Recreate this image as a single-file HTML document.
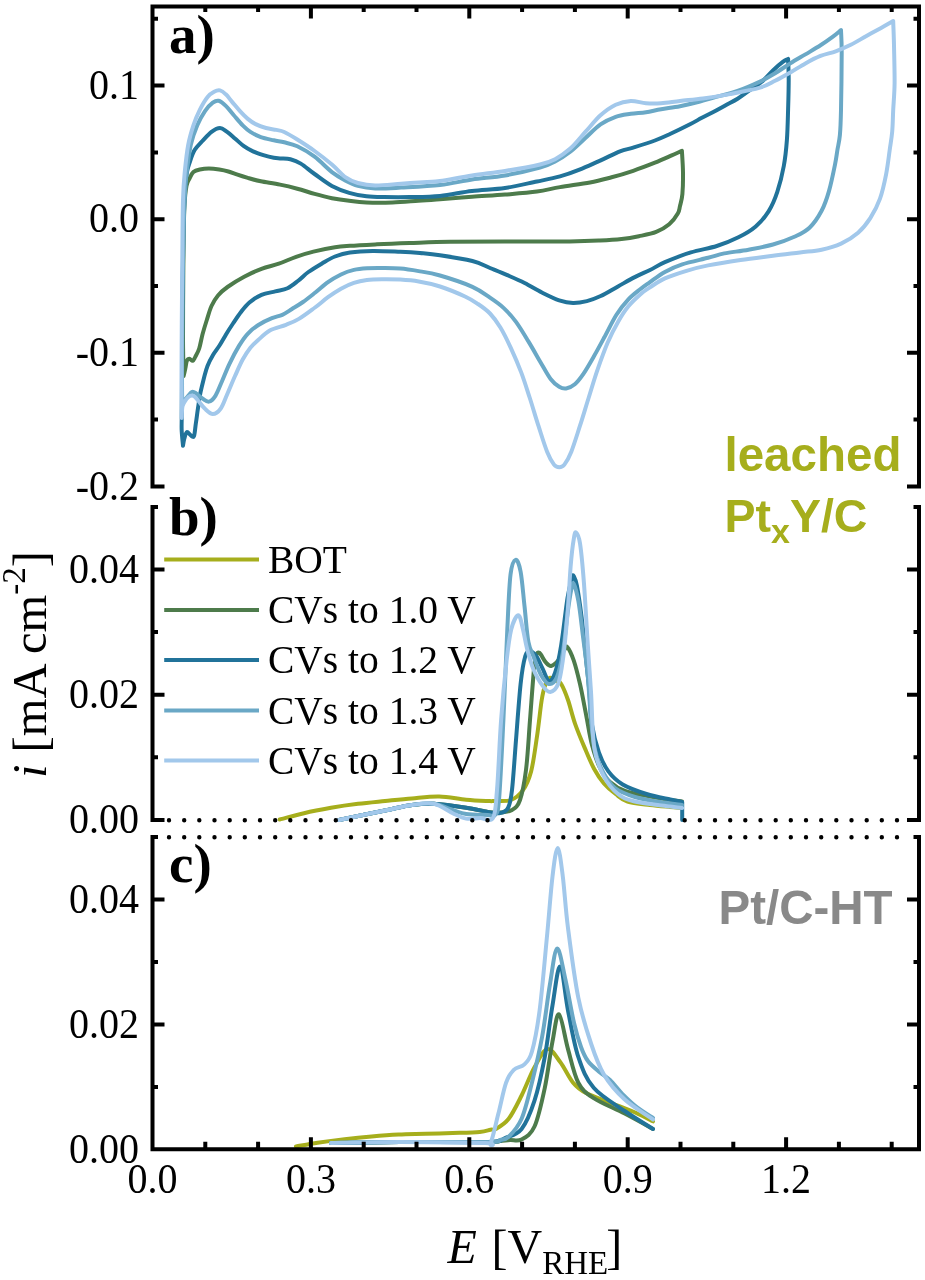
<!DOCTYPE html>
<html><head><meta charset="utf-8"><title>Figure</title><style>
html,body{margin:0;padding:0;background:#fff;width:925px;height:1280px;overflow:hidden}
svg{display:block;filter:blur(0.5px)}
.s{font-family:"Liberation Serif",serif;fill:#000}
.ss{font-family:"Liberation Sans",sans-serif;font-weight:bold}
</style></head><body>
<svg width="925" height="1280" viewBox="0 0 925 1280">
<rect width="925" height="1280" fill="#fff"/>
<g>
<path d="M183.6,376.0 C183.5,370.0 183.1,354.3 183.0,340.0 C182.9,325.7 183.1,306.7 183.2,290.0 C183.3,273.3 183.4,254.2 183.6,240.0 C183.8,225.8 184.0,214.0 184.5,205.0 C185.0,196.0 185.7,190.4 186.5,186.0 C187.3,181.6 188.3,180.9 189.5,178.6 C190.7,176.3 191.7,173.6 193.4,172.1 C195.1,170.6 197.2,170.1 199.8,169.5 C202.4,168.9 205.7,168.5 208.9,168.5 C212.2,168.5 216.1,169.0 219.3,169.5 C222.6,170.0 225.4,170.6 228.4,171.5 C231.4,172.4 234.3,173.6 237.5,174.7 C240.7,175.8 243.9,176.8 247.8,177.9 C251.7,179.0 255.4,180.1 260.8,181.2 C266.2,182.3 273.9,183.3 280.0,184.6 C286.1,185.8 291.5,187.1 297.3,188.7 C303.1,190.2 308.8,192.3 314.6,193.9 C320.4,195.5 326.1,197.0 331.9,198.2 C337.7,199.3 343.4,200.1 349.2,200.8 C355.0,201.5 359.3,202.1 366.5,202.4 C373.7,202.7 383.9,202.7 392.5,202.4 C401.1,202.1 410.5,201.3 418.4,200.8 C426.3,200.3 431.1,199.9 440.0,199.2 C448.9,198.5 461.2,197.6 472.0,196.8 C482.8,196.0 494.2,195.5 505.0,194.6 C515.8,193.7 527.8,192.8 537.0,191.6 C546.2,190.3 551.2,188.6 560.0,187.1 C568.8,185.6 581.4,184.1 590.0,182.5 C598.6,180.9 604.4,179.2 611.6,177.3 C618.8,175.4 626.0,173.2 633.2,170.8 C640.4,168.4 648.6,165.2 654.9,162.7 C661.2,160.2 666.6,157.7 671.1,155.7 C675.6,153.7 680.1,151.6 681.9,150.8 C682.1,154.4 682.9,165.2 683.0,172.4 C683.1,179.6 682.9,188.4 682.4,194.0 C681.9,199.6 680.8,202.8 680.0,206.0 C679.2,209.2 679.6,210.4 677.8,213.5 C676.0,216.6 672.8,221.2 669.2,224.3 C665.6,227.4 661.2,229.9 656.2,231.9 C651.2,233.9 644.7,235.0 638.9,236.2 C633.1,237.4 628.1,238.3 621.6,239.0 C615.1,239.7 608.6,240.1 600.0,240.5 C591.4,240.9 585.6,241.2 569.7,241.4 C553.9,241.6 524.9,241.5 504.9,241.6 C484.9,241.7 465.9,241.6 450.0,241.8 C434.1,242.0 421.7,242.6 409.5,243.0 C397.3,243.4 386.9,243.8 377.0,244.3 C367.1,244.8 357.0,245.3 350.0,245.8 C343.0,246.3 341.1,246.3 335.0,247.3 C328.9,248.3 319.9,250.0 313.4,251.6 C306.9,253.2 301.9,254.8 296.1,256.8 C290.3,258.8 284.6,261.7 278.8,263.7 C273.0,265.7 267.3,266.7 261.5,268.9 C255.7,271.1 249.9,273.7 244.2,276.7 C238.5,279.7 231.9,283.9 227.5,287.0 C223.1,290.1 220.7,292.3 218.0,295.5 C215.3,298.7 213.4,301.9 211.5,306.0 C209.6,310.1 208.3,315.3 206.8,320.0 C205.3,324.7 203.9,329.2 202.6,334.0 C201.3,338.8 200.4,344.7 199.2,348.5 C198.0,352.3 196.4,354.8 195.3,356.9 C194.2,358.9 193.7,360.5 192.7,360.8 C191.7,361.1 190.5,358.8 189.5,358.8 C188.5,358.8 187.6,359.2 186.9,360.8 C186.2,362.4 185.9,366.0 185.3,368.5 C184.8,371.0 183.9,374.8 183.6,376.0" fill="none" stroke="#4d7b4b" stroke-width="4.0" stroke-linejoin="round" stroke-linecap="round"/>
<path d="M183.0,445.7 C182.8,443.2 181.9,435.2 181.7,430.8 C181.5,426.4 181.6,427.6 181.7,419.1 C181.8,410.6 181.9,399.9 182.0,380.0 C182.1,360.1 182.2,325.0 182.5,300.0 C182.8,275.0 183.1,248.3 183.5,230.0 C183.9,211.7 184.4,199.7 185.0,190.0 C185.6,180.3 186.2,176.5 187.0,172.0 C187.8,167.5 188.2,166.7 189.5,163.0 C190.8,159.3 192.4,153.8 194.6,150.1 C196.8,146.4 199.6,144.0 202.4,141.0 C205.2,138.0 208.6,134.1 211.5,131.9 C214.4,129.7 217.4,128.0 220.0,128.0 C222.6,128.0 224.6,130.2 227.1,131.9 C229.6,133.6 232.1,136.0 234.9,138.4 C237.7,140.8 240.9,144.0 243.9,146.2 C246.9,148.4 249.8,149.9 253.0,151.4 C256.2,152.9 259.9,154.1 263.4,155.2 C266.9,156.3 271.0,157.3 273.8,157.8 C276.6,158.3 277.2,158.2 280.0,158.4 C282.8,158.7 286.9,158.4 290.4,159.3 C293.9,160.2 296.8,161.2 300.8,163.6 C304.8,166.0 309.4,170.3 314.6,174.0 C319.8,177.7 326.1,182.8 331.9,185.9 C337.7,189.0 343.4,191.1 349.2,192.8 C355.0,194.5 360.7,195.6 366.5,196.3 C372.3,197.0 376.6,197.0 383.8,197.1 C391.0,197.2 400.4,197.3 409.8,197.1 C419.2,196.9 429.6,196.9 440.0,195.9 C450.4,194.9 461.2,192.3 472.0,191.0 C482.8,189.7 494.2,189.6 505.0,188.0 C515.8,186.4 527.8,183.4 537.0,181.5 C546.2,179.6 552.9,178.4 560.0,176.4 C567.1,174.4 573.0,172.2 579.5,169.6 C586.0,167.0 592.2,164.1 599.0,161.1 C605.8,158.1 614.3,153.7 620.0,151.4 C625.7,149.2 627.4,149.4 633.2,147.6 C639.0,145.8 648.8,142.8 654.9,140.5 C661.0,138.2 664.1,136.7 670.0,134.0 C675.9,131.3 684.7,127.0 690.0,124.3 C695.3,121.6 697.9,119.9 701.9,117.8 C705.9,115.7 709.8,113.9 713.8,111.8 C717.8,109.7 721.7,107.5 725.7,105.3 C729.7,103.1 733.6,101.3 737.6,98.8 C741.6,96.3 745.5,93.2 749.5,90.4 C753.5,87.6 757.4,85.5 761.4,82.1 C765.4,78.7 769.6,73.6 773.2,70.2 C776.8,66.8 780.3,63.8 782.8,61.9 C785.3,60.0 787.2,59.4 788.1,58.9 C788.2,62.4 788.7,71.3 788.7,79.7 C788.7,88.1 788.4,99.5 788.1,109.5 C787.8,119.5 787.6,130.6 786.9,140.0 C786.2,149.4 785.4,157.3 783.8,166.0 C782.2,174.7 779.8,184.3 777.3,191.9 C774.8,199.5 772.2,205.6 768.6,211.4 C765.0,217.2 760.7,222.2 755.7,226.5 C750.7,230.8 744.9,234.1 738.4,237.3 C731.9,240.6 724.7,243.5 716.8,246.0 C708.9,248.5 699.4,249.7 690.8,252.4 C682.1,255.1 671.7,259.3 664.9,262.2 C658.1,265.1 654.9,267.6 650.0,270.0 C645.1,272.4 640.6,274.2 635.3,276.9 C630.0,279.6 623.8,283.2 618.0,286.4 C612.2,289.6 605.9,293.6 600.7,296.0 C595.5,298.4 591.5,300.0 586.9,301.1 C582.3,302.2 577.6,303.0 573.0,302.9 C568.4,302.8 564.4,302.0 559.2,300.3 C554.0,298.6 547.7,295.4 541.9,292.5 C536.1,289.6 530.4,285.9 524.6,283.0 C518.8,280.1 513.1,277.7 507.3,275.2 C501.5,272.7 495.8,270.4 490.0,268.0 C484.2,265.6 480.7,263.1 472.4,261.0 C464.1,258.9 448.7,256.5 440.0,255.2 C431.3,253.9 426.6,253.6 420.0,253.0 C413.4,252.4 408.2,252.1 400.3,251.8 C392.4,251.5 381.1,250.9 372.7,251.0 C364.3,251.1 356.3,251.6 350.0,252.5 C343.7,253.4 339.7,254.7 335.0,256.5 C330.3,258.3 326.4,260.9 322.0,263.5 C317.6,266.1 312.3,269.2 308.4,272.0 C304.5,274.8 302.0,277.8 298.5,280.5 C295.0,283.2 291.4,286.5 287.5,288.3 C283.6,290.1 279.6,290.3 275.3,291.4 C271.0,292.5 265.8,293.0 261.5,294.9 C257.2,296.8 252.8,299.6 249.4,302.5 C246.0,305.4 243.7,308.5 241.0,312.0 C238.3,315.5 235.5,319.8 233.0,323.5 C230.5,327.2 228.2,330.8 226.0,334.5 C223.8,338.2 221.7,342.1 219.5,345.5 C217.3,348.9 215.0,351.6 213.0,355.0 C211.0,358.4 208.9,362.4 207.5,366.0 C206.1,369.6 205.3,372.9 204.4,376.3 C203.5,379.8 202.6,383.4 201.8,386.7 C201.0,389.9 200.5,392.1 199.8,395.8 C199.2,399.5 198.6,404.3 197.9,408.8 C197.2,413.3 196.6,418.5 195.9,423.0 C195.2,427.5 194.8,433.9 194.0,436.0 C193.2,438.1 192.0,436.0 190.8,435.4 C189.6,434.8 188.0,431.6 186.9,432.1 C185.8,432.6 185.0,436.3 184.3,438.6 C183.7,440.9 183.2,444.5 183.0,445.7" fill="none" stroke="#21739a" stroke-width="4.0" stroke-linejoin="round" stroke-linecap="round"/>
<path d="M182.3,404.9 C182.2,400.8 182.0,394.1 182.0,380.0 C182.0,365.9 182.1,340.0 182.3,320.0 C182.5,300.0 182.7,277.5 183.0,260.0 C183.3,242.5 183.6,227.5 184.0,215.0 C184.4,202.5 185.0,192.4 185.5,185.0 C186.0,177.6 186.0,177.5 186.9,170.8 C187.8,164.1 189.1,152.5 190.8,144.9 C192.5,137.3 194.8,131.0 197.2,125.4 C199.6,119.8 202.4,114.9 205.0,111.1 C207.6,107.3 210.5,104.4 212.8,102.7 C215.1,101.0 216.4,100.3 218.6,100.8 C220.8,101.3 223.3,103.5 225.8,105.9 C228.3,108.3 230.8,111.8 233.6,115.0 C236.4,118.2 239.9,122.6 242.7,125.4 C245.5,128.2 247.4,130.0 250.4,131.9 C253.4,133.8 256.9,135.7 260.8,137.1 C264.7,138.5 269.9,139.4 273.8,140.3 C277.7,141.2 280.3,141.3 284.2,142.3 C288.1,143.3 292.2,143.9 297.3,146.3 C302.4,148.7 308.8,152.4 314.6,156.7 C320.4,161.0 326.7,168.1 331.9,172.1 C337.1,176.1 341.4,178.4 345.7,180.7 C350.0,183.0 353.0,184.6 357.9,185.9 C362.8,187.2 368.0,188.2 375.2,188.5 C382.4,188.8 390.3,188.2 401.1,187.6 C411.9,187.0 428.2,186.3 440.0,185.0 C451.8,183.7 461.2,181.1 472.0,179.5 C482.8,177.9 493.7,177.5 505.0,175.5 C516.3,173.5 531.6,169.8 540.0,167.5 C548.4,165.2 550.1,164.1 555.1,161.4 C560.1,158.8 565.2,155.5 570.3,151.6 C575.3,147.7 580.4,142.5 585.4,138.0 C590.4,133.5 595.5,127.9 600.5,124.4 C605.5,120.9 610.7,118.6 615.7,116.8 C620.8,115.0 625.8,114.6 630.8,113.8 C635.8,113.0 641.0,113.0 646.0,112.2 C651.0,111.4 655.4,110.2 661.1,109.2 C666.8,108.2 673.5,107.5 680.0,106.2 C686.5,104.9 694.4,103.0 700.0,101.5 C705.6,100.0 707.5,99.2 713.8,97.5 C720.1,95.8 729.9,93.7 737.6,91.0 C745.3,88.3 753.8,84.5 760.0,81.6 C766.2,78.6 770.1,76.3 775.1,73.3 C780.1,70.3 785.2,66.5 790.3,63.4 C795.3,60.2 800.4,57.4 805.4,54.4 C810.4,51.4 816.0,48.2 820.5,45.3 C825.0,42.4 829.2,39.4 832.6,36.9 C836.0,34.4 839.6,31.2 841.0,30.1 C841.1,33.9 841.7,39.5 841.7,52.8 C841.7,66.1 841.3,96.3 841.0,110.0 C840.7,123.7 840.5,128.3 839.9,135.0 C839.3,141.7 838.2,145.1 837.4,150.0 C836.6,154.9 836.4,157.7 835.0,164.6 C833.6,171.5 831.1,183.7 828.9,191.4 C826.7,199.1 824.8,204.7 821.6,210.8 C818.4,216.9 813.9,223.5 809.5,227.8 C805.1,232.1 801.1,233.7 795.0,236.5 C788.9,239.3 780.7,242.3 773.0,244.5 C765.3,246.7 756.7,248.2 748.6,249.7 C740.5,251.2 731.0,252.1 724.3,253.4 C717.5,254.8 715.1,256.0 708.1,257.8 C701.1,259.6 689.4,262.0 682.2,264.3 C675.0,266.6 670.3,268.9 664.9,271.9 C659.5,274.9 654.1,279.2 650.0,282.1 C645.9,285.0 644.1,286.1 640.5,289.0 C636.9,291.9 632.4,295.1 628.4,299.4 C624.4,303.7 620.3,308.6 616.3,315.0 C612.3,321.4 608.0,330.6 604.2,337.5 C600.5,344.4 597.3,350.4 593.8,356.5 C590.3,362.6 586.6,369.2 583.4,373.8 C580.2,378.4 577.7,381.8 574.8,384.2 C571.9,386.6 568.7,388.1 566.1,388.5 C563.5,388.9 561.8,388.4 559.2,386.8 C556.6,385.2 553.8,383.2 550.6,379.0 C547.4,374.8 544.0,368.1 540.2,361.7 C536.5,355.3 532.1,347.5 528.1,340.9 C524.1,334.3 520.0,327.4 516.0,321.9 C511.9,316.4 508.1,312.1 503.8,308.1 C499.5,304.1 495.2,301.2 490.0,297.7 C484.8,294.1 480.7,290.5 472.4,286.8 C464.1,283.1 448.9,278.1 440.0,275.5 C431.1,272.9 425.3,272.2 418.7,271.1 C412.1,270.0 406.4,269.1 400.3,268.6 C394.2,268.1 387.5,268.1 381.9,268.0 C376.3,267.9 371.6,268.0 366.9,268.3 C362.2,268.6 358.2,268.9 353.9,269.9 C349.6,270.9 345.3,272.4 341.0,274.5 C336.7,276.6 332.3,279.1 328.0,282.2 C323.7,285.2 319.2,289.5 315.0,292.8 C310.8,296.1 306.8,299.3 303.0,302.0 C299.2,304.7 295.4,306.9 292.0,309.0 C288.6,311.1 285.7,313.3 282.3,314.8 C278.9,316.3 275.9,316.5 271.9,318.2 C267.8,319.9 262.0,322.6 258.0,325.2 C254.0,327.8 250.9,330.4 247.7,333.8 C244.5,337.2 242.0,341.0 239.0,345.9 C236.0,350.8 232.5,357.5 229.7,363.4 C226.8,369.3 224.3,376.1 221.9,381.5 C219.5,386.9 217.6,392.4 215.4,395.8 C213.2,399.2 211.1,401.2 208.9,401.6 C206.7,402.0 204.6,399.8 202.4,398.4 C200.2,397.0 197.6,394.3 195.9,393.2 C194.2,392.1 193.4,391.5 192.1,391.9 C190.8,392.3 189.5,394.3 188.2,395.8 C186.9,397.3 185.3,399.5 184.3,401.0 C183.3,402.5 182.6,404.2 182.3,404.9" fill="none" stroke="#6aa8c6" stroke-width="4.0" stroke-linejoin="round" stroke-linecap="round"/>
<path d="M181.7,418.0 C181.7,411.7 181.5,396.3 181.5,380.0 C181.5,363.7 181.7,340.0 181.8,320.0 C181.9,300.0 182.1,280.0 182.3,260.0 C182.5,240.0 182.6,214.9 183.0,200.0 C183.4,185.1 184.0,180.0 184.9,170.8 C185.8,161.6 186.8,152.5 188.2,144.9 C189.6,137.3 191.5,131.2 193.4,125.4 C195.3,119.6 197.4,114.5 199.8,109.8 C202.2,105.0 205.2,99.9 207.6,96.9 C210.0,93.9 212.0,92.8 214.1,91.7 C216.2,90.6 218.1,90.0 220.0,90.4 C221.9,90.8 223.8,92.3 225.8,94.3 C227.9,96.2 229.9,99.3 232.3,102.1 C234.7,104.9 237.4,108.3 240.0,111.1 C242.6,113.9 245.2,116.7 247.8,118.9 C250.4,121.1 252.6,122.6 255.6,124.1 C258.6,125.6 262.5,127.0 266.0,128.0 C269.5,129.0 273.4,129.2 276.4,129.9 C279.4,130.6 280.7,130.4 284.2,132.0 C287.7,133.6 292.2,136.3 297.3,139.5 C302.4,142.7 308.8,146.8 314.6,151.0 C320.4,155.2 326.7,160.1 331.9,164.5 C337.1,168.9 341.4,174.3 345.7,177.4 C350.0,180.5 353.0,181.7 357.9,183.0 C362.8,184.3 368.0,185.3 375.2,185.4 C382.4,185.5 392.5,184.3 401.1,183.7 C409.8,183.1 420.6,182.3 427.1,181.9 C433.6,181.5 432.5,182.1 440.0,181.0 C447.5,179.9 461.2,177.2 472.0,175.5 C482.8,173.8 493.7,172.8 505.0,171.0 C516.3,169.2 531.6,166.5 540.0,164.5 C548.4,162.5 550.1,161.8 555.1,159.2 C560.1,156.5 565.2,153.1 570.3,148.6 C575.3,144.1 580.4,137.5 585.4,131.9 C590.4,126.4 595.5,119.8 600.5,115.3 C605.5,110.8 610.7,107.1 615.7,104.7 C620.8,102.3 625.8,101.2 630.8,100.9 C635.8,100.7 641.0,102.8 646.0,103.2 C651.0,103.6 655.4,103.6 661.1,103.2 C666.8,102.8 673.0,101.7 680.0,100.9 C687.0,100.1 694.7,99.5 703.0,98.4 C711.3,97.3 720.5,95.9 730.0,94.1 C739.5,92.3 752.5,89.9 760.0,87.7 C767.5,85.5 770.1,83.3 775.1,80.8 C780.1,78.3 785.2,75.4 790.3,72.5 C795.3,69.6 800.4,66.2 805.4,63.4 C810.4,60.6 815.5,57.9 820.5,55.9 C825.5,53.9 830.7,53.1 835.7,51.3 C840.8,49.4 845.8,47.3 850.8,44.8 C855.8,42.3 861.0,39.0 866.0,36.2 C871.0,33.4 876.6,30.4 881.1,27.9 C885.6,25.4 891.2,22.2 893.2,21.1 C893.3,25.1 893.8,35.0 894.0,45.3 C894.2,55.6 894.7,72.2 894.6,83.0 C894.5,93.8 893.6,101.9 893.2,110.0 C892.8,118.1 892.8,124.9 892.2,131.6 C891.6,138.3 890.7,142.9 889.7,150.0 C888.7,157.1 887.7,166.2 886.1,174.3 C884.5,182.4 882.6,191.3 880.0,198.6 C877.4,205.9 873.9,212.4 870.3,218.1 C866.6,223.8 863.0,228.4 858.1,232.7 C853.2,236.9 847.2,240.8 841.1,243.6 C835.0,246.4 828.5,248.2 821.6,249.7 C814.8,251.2 808.1,251.4 800.0,252.4 C791.9,253.4 782.9,254.4 773.0,255.7 C763.1,257.0 751.3,258.4 740.5,260.0 C729.7,261.6 717.1,263.6 708.1,265.4 C699.1,267.2 693.7,268.6 686.5,270.8 C679.3,273.0 671.0,275.6 664.9,278.4 C658.8,281.1 654.1,284.7 650.0,287.3 C645.9,289.9 644.1,291.0 640.5,294.2 C636.9,297.4 632.1,301.7 628.4,306.3 C624.6,310.9 621.5,315.8 618.0,321.9 C614.5,328.0 611.1,334.6 607.6,342.7 C604.1,350.8 600.5,361.1 597.3,370.3 C594.1,379.5 591.5,388.8 588.6,398.0 C585.7,407.2 582.9,416.8 580.0,425.7 C577.1,434.6 573.9,445.2 571.3,451.7 C568.7,458.2 566.4,462.0 564.4,464.6 C562.4,467.2 560.9,467.2 559.2,467.2 C557.5,467.2 556.0,467.2 554.0,464.6 C552.0,462.0 549.7,458.2 547.1,451.7 C544.5,445.2 541.3,434.6 538.4,425.7 C535.5,416.8 532.7,406.9 529.8,398.0 C526.9,389.1 524.3,380.5 521.1,372.1 C517.9,363.8 514.2,355.3 510.8,347.9 C507.4,340.5 503.9,333.2 500.4,327.5 C496.9,321.8 493.7,317.4 490.0,313.5 C486.3,309.6 482.2,306.8 478.0,304.0 C473.8,301.2 471.3,299.4 465.0,296.5 C458.7,293.6 447.7,289.0 440.0,286.5 C432.3,284.0 425.3,282.6 418.7,281.5 C412.1,280.4 406.4,280.0 400.3,279.6 C394.2,279.2 387.5,279.1 381.9,279.2 C376.3,279.3 371.6,279.4 366.9,280.0 C362.2,280.6 358.2,281.4 353.9,282.9 C349.6,284.3 345.3,286.3 341.0,288.7 C336.7,291.1 332.3,294.1 328.0,297.2 C323.7,300.3 319.9,303.9 315.0,307.5 C310.1,311.1 303.7,316.0 298.9,318.9 C294.1,321.8 290.8,322.9 286.0,324.8 C281.2,326.7 274.8,327.8 270.2,330.3 C265.6,332.8 261.5,337.1 258.2,340.0 C254.9,342.9 253.0,344.6 250.4,347.8 C247.8,351.1 245.3,354.8 242.7,359.5 C240.1,364.2 237.5,370.5 234.9,376.3 C232.3,382.1 229.5,389.1 227.1,394.5 C224.7,399.9 223.0,405.6 220.6,408.8 C218.2,412.1 215.4,414.0 212.8,414.0 C210.2,414.0 207.4,411.0 205.0,408.8 C202.6,406.6 200.4,403.2 198.5,401.0 C196.6,398.8 195.1,396.4 193.4,395.8 C191.7,395.2 189.7,396.0 188.2,397.1 C186.7,398.2 185.3,400.6 184.3,402.3 C183.3,404.0 182.7,404.9 182.3,407.5 C181.9,410.1 181.8,416.2 181.7,418.0" fill="none" stroke="#a2c8eb" stroke-width="4.0" stroke-linejoin="round" stroke-linecap="round"/>
<path d="M279.7,819.5 C283.8,818.5 295.4,815.2 304.0,813.2 C312.6,811.2 322.0,809.4 331.0,807.8 C340.0,806.2 349.0,804.9 358.0,803.8 C367.0,802.7 376.0,801.9 385.0,801.0 C394.0,800.1 403.0,799.1 412.0,798.4 C421.0,797.6 430.2,796.3 439.2,796.5 C448.2,796.7 458.1,799.0 466.2,799.7 C474.3,800.5 483.1,800.8 487.8,801.0 C492.5,801.2 490.5,801.2 494.3,801.0 C498.1,800.8 506.1,801.8 510.9,800.0 C515.6,798.2 519.4,795.2 522.8,790.4 C526.2,785.6 528.7,780.5 531.1,771.4 C533.5,762.3 535.3,747.6 537.1,735.7 C538.9,723.8 540.3,708.6 541.7,700.0 C543.1,691.4 544.2,687.7 545.6,684.0 C547.0,680.3 548.5,678.3 550.3,677.8 C552.1,677.3 554.8,680.0 556.6,681.0 C558.4,682.0 559.4,680.8 561.2,684.0 C563.1,687.2 565.7,693.4 568.0,700.0 C570.3,706.6 572.3,715.9 575.1,723.8 C577.9,731.7 581.4,740.1 584.6,747.6 C587.8,755.1 591.0,763.1 594.2,769.0 C597.4,774.9 600.1,779.0 603.7,783.2 C607.3,787.4 611.6,791.0 615.6,794.0 C619.6,797.0 621.8,799.7 627.5,801.5 C633.2,803.3 642.9,804.1 650.0,805.0 C657.1,805.9 664.7,806.5 670.0,807.0 C675.3,807.5 680.0,807.8 682.0,808.0" fill="none" stroke="#a6ae1c" stroke-width="4.0" stroke-linejoin="round" stroke-linecap="round"/>
<path d="M339.0,820.0 C346.7,818.4 372.8,813.0 385.0,810.5 C397.2,808.0 403.9,806.1 412.0,805.0 C420.1,803.9 424.8,803.3 433.8,803.8 C442.8,804.3 457.2,806.4 466.2,807.8 C475.2,809.1 482.2,811.1 487.8,811.9 C493.4,812.7 496.0,812.8 500.0,812.5 C504.0,812.2 508.7,812.1 512.0,810.0 C515.3,807.9 517.7,806.7 520.0,800.0 C522.3,793.3 524.3,783.3 526.0,770.0 C527.7,756.7 528.7,736.7 530.0,720.0 C531.3,703.3 532.9,680.7 533.9,670.0 C534.9,659.3 535.1,658.9 536.0,656.0 C536.9,653.1 537.8,651.8 539.4,652.8 C541.0,653.8 543.6,660.0 545.6,662.2 C547.6,664.4 549.0,666.3 551.1,666.0 C553.2,665.7 555.9,663.3 558.1,660.6 C560.3,657.9 562.8,651.9 564.4,649.7 C566.0,647.5 565.9,645.5 567.5,647.3 C569.1,649.1 571.7,654.5 573.8,660.6 C575.8,666.7 577.9,674.9 580.0,684.0 C582.1,693.1 584.2,705.1 586.2,715.3 C588.2,725.5 589.7,736.2 592.0,745.0 C594.3,753.8 597.0,761.8 600.0,768.0 C603.0,774.2 605.8,778.2 610.0,782.0 C614.2,785.8 618.3,788.6 625.0,791.0 C631.7,793.4 642.5,795.0 650.0,796.5 C657.5,798.0 664.7,799.2 670.0,800.0 C675.3,800.8 680.0,801.2 682.0,801.5" fill="none" stroke="#4d7b4b" stroke-width="4.0" stroke-linejoin="round" stroke-linecap="round"/>
<path d="M339.0,820.0 C346.7,818.4 372.8,813.0 385.0,810.5 C397.2,808.0 403.9,806.1 412.0,805.0 C420.1,803.9 424.8,803.3 433.8,803.8 C442.8,804.3 457.2,806.4 466.2,807.8 C475.2,809.1 482.2,811.0 487.8,811.9 C493.4,812.8 496.6,813.6 500.0,813.0 C503.4,812.4 506.0,811.8 508.0,808.0 C510.0,804.2 510.7,801.3 512.0,790.0 C513.3,778.7 514.6,757.7 516.0,740.0 C517.4,722.3 519.1,698.0 520.6,684.0 C522.1,670.0 523.7,661.5 525.3,656.0 C526.9,650.5 528.2,651.2 530.0,651.2 C531.8,651.2 534.2,653.1 536.2,656.0 C538.3,658.9 540.4,664.2 542.5,668.4 C544.6,672.6 546.7,680.2 548.8,681.0 C550.8,681.8 552.9,679.0 555.0,673.0 C557.1,667.0 559.2,657.5 561.2,645.0 C563.3,632.5 565.7,609.2 567.5,598.0 C569.3,586.8 571.2,581.4 572.2,577.8 C573.2,574.2 573.0,575.0 573.8,576.2 C574.5,577.5 575.6,578.8 576.9,585.6 C578.2,592.4 580.0,604.4 581.6,616.9 C583.2,629.4 585.0,648.1 586.2,660.6 C587.5,673.1 588.5,681.4 589.4,691.9 C590.3,702.4 590.2,713.7 591.8,723.8 C593.4,733.9 596.1,744.4 598.9,752.3 C601.7,760.2 604.4,766.0 608.4,771.4 C612.4,776.8 616.4,780.7 622.7,784.5 C629.1,788.3 638.6,791.5 646.5,794.0 C654.4,796.5 664.3,798.2 670.3,799.5 C676.2,800.8 680.2,801.6 682.2,802.0 L682.2,820.0" fill="none" stroke="#21739a" stroke-width="4.0" stroke-linejoin="round" stroke-linecap="round"/>
<path d="M339.0,820.0 C346.7,818.4 372.8,813.0 385.0,810.5 C397.2,808.0 403.9,806.1 412.0,805.0 C420.1,803.9 427.0,803.0 433.8,803.8 C440.6,804.6 447.3,808.3 452.7,810.0 C458.1,811.7 460.3,813.2 466.2,814.0 C472.1,814.8 483.0,814.8 487.8,815.0 C492.6,815.2 493.1,817.5 495.0,815.0 C496.9,812.5 497.6,815.8 499.0,800.0 C500.4,784.2 502.0,748.4 503.4,720.0 C504.8,691.6 506.1,653.6 507.3,629.4 C508.5,605.2 509.1,586.3 510.5,574.7 C511.9,563.1 513.9,560.3 515.6,559.8 C517.3,559.3 519.1,563.9 520.6,571.6 C522.1,579.3 523.2,594.3 524.5,606.0 C525.8,617.7 526.8,633.3 528.4,641.9 C530.0,650.5 531.8,652.0 533.9,657.5 C536.0,663.0 538.4,670.3 540.9,674.7 C543.4,679.1 546.1,683.5 548.8,684.0 C551.4,684.5 554.3,683.0 556.6,677.8 C558.9,672.6 561.0,663.5 562.8,652.8 C564.6,642.1 566.1,624.4 567.5,613.8 C568.9,603.1 570.4,593.7 571.4,588.8 C572.4,583.8 572.6,581.9 573.8,584.0 C574.9,586.1 576.8,592.4 578.4,601.2 C580.0,610.1 581.5,624.7 583.1,637.2 C584.7,649.7 586.5,662.5 587.8,676.2 C589.1,690.0 589.8,707.7 591.0,720.0 C592.2,732.3 593.0,741.3 595.0,750.0 C597.0,758.7 599.7,765.7 603.0,772.0 C606.3,778.3 609.7,783.8 615.0,788.0 C620.3,792.2 627.5,794.7 635.0,797.0 C642.5,799.3 652.2,800.7 660.0,802.0 C667.8,803.3 678.3,804.5 682.0,805.0" fill="none" stroke="#6aa8c6" stroke-width="4.0" stroke-linejoin="round" stroke-linecap="round"/>
<path d="M339.0,820.0 C346.7,818.4 372.8,813.0 385.0,810.5 C397.2,808.0 403.9,806.1 412.0,805.0 C420.1,803.9 427.0,802.4 433.8,803.8 C440.6,805.2 447.3,810.7 452.7,813.2 C458.1,815.7 461.6,817.8 466.2,818.6 C470.8,819.4 475.5,818.1 480.0,818.0 C484.5,817.9 490.2,822.7 493.0,818.0 C495.8,813.3 495.6,806.3 497.0,790.0 C498.4,773.7 499.5,741.6 501.1,720.0 C502.7,698.4 504.9,675.7 506.6,660.6 C508.3,645.5 509.3,637.0 511.2,629.4 C513.2,621.8 516.3,615.3 518.3,615.3 C520.3,615.3 521.6,623.9 523.0,629.4 C524.4,634.9 525.2,641.6 526.9,648.1 C528.6,654.6 530.5,662.1 533.1,668.4 C535.7,674.6 539.6,681.7 542.5,685.6 C545.4,689.5 547.7,692.2 550.3,691.9 C552.9,691.6 556.0,689.2 558.1,684.0 C560.2,678.8 561.2,672.3 562.8,660.6 C564.4,648.9 566.2,629.4 567.5,613.8 C568.8,598.1 569.6,579.4 570.6,566.9 C571.6,554.4 572.8,544.5 573.8,538.8 C574.7,533.0 575.1,531.7 576.1,532.5 C577.1,533.3 578.7,535.1 580.0,543.4 C581.3,551.7 582.6,565.6 583.9,582.5 C585.2,599.4 586.6,626.8 587.8,645.0 C589.0,663.2 589.9,674.8 591.0,691.9 C592.1,709.0 592.1,733.6 594.2,747.6 C596.3,761.6 599.7,768.4 603.7,776.1 C607.7,783.8 612.9,789.8 618.0,794.0 C623.1,798.2 625.9,799.4 634.6,801.5 C643.3,803.6 662.4,805.4 670.3,806.5 C678.2,807.6 680.2,807.8 682.2,808.0" fill="none" stroke="#a2c8eb" stroke-width="4.0" stroke-linejoin="round" stroke-linecap="round"/>
<path d="M296.0,1146.5 C299.6,1145.9 309.5,1143.9 317.6,1142.7 C325.7,1141.5 335.6,1140.2 344.6,1139.2 C353.6,1138.2 362.6,1137.3 371.6,1136.5 C380.6,1135.7 389.6,1135.0 398.6,1134.6 C407.6,1134.1 416.7,1134.1 425.7,1133.8 C434.7,1133.5 443.7,1133.3 452.7,1133.0 C461.7,1132.7 473.4,1132.5 479.7,1131.9 C486.0,1131.4 487.8,1130.2 490.5,1129.7 C493.2,1129.2 492.8,1130.8 495.8,1129.0 C498.8,1127.2 504.4,1124.4 508.7,1118.8 C513.0,1113.2 517.3,1104.1 521.6,1095.5 C525.9,1086.9 530.2,1074.9 534.5,1067.2 C538.8,1059.5 543.0,1050.0 547.3,1049.1 C551.6,1048.2 555.9,1056.4 560.2,1062.0 C564.5,1067.6 568.8,1077.5 573.1,1082.7 C577.4,1087.9 579.5,1089.6 586.0,1093.0 C592.5,1096.4 603.2,1099.9 611.8,1103.3 C620.4,1106.7 630.7,1110.6 637.6,1113.6 C644.5,1116.6 650.4,1120.0 653.0,1121.3" fill="none" stroke="#a6ae1c" stroke-width="4.0" stroke-linejoin="round" stroke-linecap="round"/>
<path d="M331.0,1143.0 C342.5,1142.8 373.8,1142.2 400.0,1142.0 C426.2,1141.8 471.3,1142.2 488.0,1142.0 C504.7,1141.8 496.3,1141.3 500.0,1141.0 C503.7,1140.7 506.4,1140.3 510.0,1140.0 C513.6,1139.7 517.5,1141.7 521.6,1139.4 C525.7,1137.2 530.6,1135.1 534.5,1126.5 C538.4,1117.9 541.8,1102.0 544.8,1087.8 C547.8,1073.6 550.1,1053.7 552.5,1041.4 C554.9,1029.2 556.4,1013.0 559.0,1014.3 C561.6,1015.6 564.8,1037.7 568.0,1049.1 C571.2,1060.5 574.0,1074.5 578.3,1082.7 C582.6,1090.9 586.0,1092.9 593.7,1098.1 C601.4,1103.2 614.8,1108.4 624.7,1113.6 C634.6,1118.8 648.3,1126.4 653.0,1129.0" fill="none" stroke="#4d7b4b" stroke-width="4.0" stroke-linejoin="round" stroke-linecap="round"/>
<path d="M331.0,1143.0 C342.5,1142.8 373.8,1142.2 400.0,1142.0 C426.2,1141.8 470.5,1142.7 488.0,1142.0 C505.5,1141.3 499.4,1140.2 505.0,1138.0 C510.6,1135.8 516.7,1135.2 521.6,1129.0 C526.5,1122.8 530.6,1112.7 534.5,1100.7 C538.4,1088.7 541.8,1072.8 544.8,1056.9 C547.8,1041.0 549.9,1020.3 552.5,1005.3 C555.1,990.2 557.6,965.7 560.2,966.6 C562.8,967.5 565.0,995.5 568.0,1010.5 C571.0,1025.5 574.0,1044.0 578.3,1056.9 C582.6,1069.8 586.0,1078.8 593.7,1087.8 C601.4,1096.8 614.8,1104.1 624.7,1111.0 C634.6,1117.9 648.3,1126.0 653.0,1129.0" fill="none" stroke="#21739a" stroke-width="4.0" stroke-linejoin="round" stroke-linecap="round"/>
<path d="M331.0,1143.0 C342.5,1142.8 373.8,1142.2 400.0,1142.0 C426.2,1141.8 471.3,1142.3 488.0,1142.0 C504.7,1141.7 496.6,1140.9 500.0,1140.0 C503.4,1139.1 505.1,1140.3 508.7,1136.8 C512.3,1133.3 517.7,1127.8 521.6,1118.8 C525.5,1109.8 528.5,1096.5 531.9,1082.7 C535.3,1069.0 539.2,1052.6 542.2,1036.3 C545.2,1020.0 547.4,999.3 549.9,984.7 C552.4,970.1 554.5,949.5 557.1,948.6 C559.7,947.7 562.6,967.0 565.4,979.5 C568.2,992.0 571.5,1012.0 574.1,1023.3 C576.7,1034.6 578.8,1040.9 581.1,1047.2 C583.4,1053.5 585.0,1057.1 588.1,1061.3 C591.2,1065.5 596.4,1069.4 600.0,1072.5 C603.6,1075.6 606.1,1076.2 610.0,1080.0 C613.9,1083.8 618.7,1090.4 623.3,1095.0 C627.9,1099.6 632.4,1103.9 637.4,1107.7 C642.4,1111.5 650.4,1116.3 653.0,1118.0" fill="none" stroke="#6aa8c6" stroke-width="4.0" stroke-linejoin="round" stroke-linecap="round"/>
<path d="M331.0,1143.0 C342.5,1142.8 374.3,1142.0 400.0,1142.0 C425.7,1142.0 469.9,1142.8 485.0,1143.0 C500.1,1143.2 488.4,1148.1 490.6,1143.2 C492.8,1138.3 495.8,1123.7 498.4,1113.6 C501.0,1103.5 503.5,1090.0 506.1,1082.7 C508.7,1075.4 510.8,1072.8 513.8,1069.8 C516.8,1066.8 521.1,1067.6 524.1,1064.6 C527.1,1061.6 529.3,1060.7 531.9,1051.7 C534.5,1042.7 537.0,1030.3 539.6,1010.5 C542.2,990.7 545.1,955.5 547.3,933.1 C549.4,910.8 550.8,890.6 552.5,876.4 C554.2,862.2 556.0,848.0 557.7,848.0 C559.4,848.0 561.1,863.1 562.8,876.4 C564.5,889.7 565.4,907.8 568.0,928.0 C570.6,948.2 574.4,978.3 578.3,997.6 C582.2,1016.9 586.9,1031.1 591.2,1044.0 C595.5,1056.9 598.5,1065.7 604.1,1074.9 C609.7,1084.2 616.6,1092.1 624.7,1099.5 C632.9,1106.9 648.3,1116.2 653.0,1119.5" fill="none" stroke="#a2c8eb" stroke-width="4.0" stroke-linejoin="round" stroke-linecap="round"/>
</g>
<path d="M152.5,488.4 V6.5 H919 V488.4 M152.5,85.6 h12 M919,85.6 h-12 M152.5,219.2 h12 M919,219.2 h-12 M152.5,352.8 h12 M919,352.8 h-12 M152.5,486.4 h12 M919,486.4 h-12 M152.5,18.8 h5.5 M919,18.8 h-5.5 M152.5,152.4 h5.5 M919,152.4 h-5.5 M152.5,286.0 h5.5 M919,286.0 h-5.5 M152.5,419.6 h5.5 M919,419.6 h-5.5 M205.3,6.5 v5.5 M258.1,6.5 v5.5 M310.9,6.5 v12 M363.7,6.5 v5.5 M416.5,6.5 v5.5 M469.3,6.5 v12 M522.1,6.5 v5.5 M574.9,6.5 v5.5 M627.7,6.5 v12 M680.5,6.5 v5.5 M733.3,6.5 v5.5 M786.1,6.5 v12 M838.9,6.5 v5.5 M891.7,6.5 v5.5 M152.5,505 V822 M919,505 V822 M152.5,819.9 h12 M919,819.9 h-12 M152.5,694.7 h12 M919,694.7 h-12 M152.5,569.5 h12 M919,569.5 h-12 M152.5,757.3 h5.5 M919,757.3 h-5.5 M152.5,632.1 h5.5 M919,632.1 h-5.5 M152.5,506.9 h5.5 M919,506.9 h-5.5 M152.5,835 V1149.3 H919 V835 M152.5,1024.6 h12 M919,1024.6 h-12 M152.5,899.6 h12 M919,899.6 h-12 M152.5,1087.1 h5.5 M919,1087.1 h-5.5 M152.5,962.1 h5.5 M919,962.1 h-5.5 M152.5,837.1 h5.5 M919,837.1 h-5.5 M205.3,1149.3 v-7.5 M258.1,1149.3 v-7.5 M310.9,1149.3 v-12 M363.7,1149.3 v-7.5 M416.5,1149.3 v-7.5 M469.3,1149.3 v-12 M522.1,1149.3 v-7.5 M574.9,1149.3 v-7.5 M627.7,1149.3 v-12 M680.5,1149.3 v-7.5 M733.3,1149.3 v-7.5 M786.1,1149.3 v-12 M838.9,1149.3 v-7.5 M891.7,1149.3 v-7.5" fill="none" stroke="#000" stroke-width="4" stroke-linecap="butt" stroke-linejoin="miter"/>
<path d="M169.0,820.2 h0.01 M169.0,837.2 h0.01 M184.2,820.2 h0.01 M184.2,837.2 h0.01 M199.3,820.2 h0.01 M199.3,837.2 h0.01 M214.5,820.2 h0.01 M214.5,837.2 h0.01 M229.7,820.2 h0.01 M229.7,837.2 h0.01 M244.8,820.2 h0.01 M244.8,837.2 h0.01 M260.0,820.2 h0.01 M260.0,837.2 h0.01 M275.2,820.2 h0.01 M275.2,837.2 h0.01 M290.3,820.2 h0.01 M290.3,837.2 h0.01 M305.5,820.2 h0.01 M305.5,837.2 h0.01 M320.7,820.2 h0.01 M320.7,837.2 h0.01 M335.8,820.2 h0.01 M335.8,837.2 h0.01 M351.0,820.2 h0.01 M351.0,837.2 h0.01 M366.2,820.2 h0.01 M366.2,837.2 h0.01 M381.3,820.2 h0.01 M381.3,837.2 h0.01 M396.5,820.2 h0.01 M396.5,837.2 h0.01 M411.7,820.2 h0.01 M411.7,837.2 h0.01 M426.8,820.2 h0.01 M426.8,837.2 h0.01 M442.0,820.2 h0.01 M442.0,837.2 h0.01 M457.2,820.2 h0.01 M457.2,837.2 h0.01 M472.3,820.2 h0.01 M472.3,837.2 h0.01 M487.5,820.2 h0.01 M487.5,837.2 h0.01 M502.7,820.2 h0.01 M502.7,837.2 h0.01 M517.8,820.2 h0.01 M517.8,837.2 h0.01 M533.0,820.2 h0.01 M533.0,837.2 h0.01 M548.2,820.2 h0.01 M548.2,837.2 h0.01 M563.3,820.2 h0.01 M563.3,837.2 h0.01 M578.5,820.2 h0.01 M578.5,837.2 h0.01 M593.7,820.2 h0.01 M593.7,837.2 h0.01 M608.8,820.2 h0.01 M608.8,837.2 h0.01 M624.0,820.2 h0.01 M624.0,837.2 h0.01 M639.2,820.2 h0.01 M639.2,837.2 h0.01 M654.3,820.2 h0.01 M654.3,837.2 h0.01 M669.5,820.2 h0.01 M669.5,837.2 h0.01 M684.7,820.2 h0.01 M684.7,837.2 h0.01 M699.8,820.2 h0.01 M699.8,837.2 h0.01 M715.0,820.2 h0.01 M715.0,837.2 h0.01 M730.2,820.2 h0.01 M730.2,837.2 h0.01 M745.3,820.2 h0.01 M745.3,837.2 h0.01 M760.5,820.2 h0.01 M760.5,837.2 h0.01 M775.7,820.2 h0.01 M775.7,837.2 h0.01 M790.8,820.2 h0.01 M790.8,837.2 h0.01 M806.0,820.2 h0.01 M806.0,837.2 h0.01 M821.2,820.2 h0.01 M821.2,837.2 h0.01 M836.3,820.2 h0.01 M836.3,837.2 h0.01 M851.5,820.2 h0.01 M851.5,837.2 h0.01 M866.7,820.2 h0.01 M866.7,837.2 h0.01 M881.8,820.2 h0.01 M881.8,837.2 h0.01 M897.0,820.2 h0.01 M897.0,837.2 h0.01" stroke="#000" stroke-width="4.4" stroke-linecap="round"/>
<path d="M164.2,559.5 H259" stroke="#a6ae1c" stroke-width="4"/>
<text class="s" x="268" y="572.7" font-size="39.5">BOT</text>
<path d="M164.2,609.9 H259" stroke="#4d7b4b" stroke-width="4"/>
<text class="s" x="268" y="623.1" font-size="39.5">CVs to 1.0 V</text>
<path d="M164.2,660.1 H259" stroke="#21739a" stroke-width="4"/>
<text class="s" x="268" y="673.3" font-size="39.5">CVs to 1.2 V</text>
<path d="M164.2,710.4 H259" stroke="#6aa8c6" stroke-width="4"/>
<text class="s" x="268" y="723.6" font-size="39.5">CVs to 1.3 V</text>
<path d="M164.2,760.6 H259" stroke="#a2c8eb" stroke-width="4"/>
<text class="s" x="268" y="773.8" font-size="39.5">CVs to 1.4 V</text>
<text class="s" transform="translate(139,98.8) scale(1,1.06)" font-size="40" text-anchor="end">0.1</text>
<text class="s" transform="translate(139,232.4) scale(1,1.06)" font-size="40" text-anchor="end">0.0</text>
<text class="s" transform="translate(139,366.0) scale(1,1.06)" font-size="40" text-anchor="end">-0.1</text>
<text class="s" transform="translate(139,499.6) scale(1,1.06)" font-size="40" text-anchor="end">-0.2</text>
<text class="s" transform="translate(139,582.7) scale(1,1.06)" font-size="40" text-anchor="end">0.04</text>
<text class="s" transform="translate(139,707.9) scale(1,1.06)" font-size="40" text-anchor="end">0.02</text>
<text class="s" transform="translate(139,833.1) scale(1,1.06)" font-size="40" text-anchor="end">0.00</text>
<text class="s" transform="translate(139,912.8) scale(1,1.06)" font-size="40" text-anchor="end">0.04</text>
<text class="s" transform="translate(139,1037.8) scale(1,1.06)" font-size="40" text-anchor="end">0.02</text>
<text class="s" transform="translate(139,1162.8) scale(1,1.06)" font-size="40" text-anchor="end">0.00</text>
<text class="s" transform="translate(152.5,1193.4) scale(1,1.06)" font-size="40" text-anchor="middle">0.0</text>
<text class="s" transform="translate(310.9,1193.4) scale(1,1.06)" font-size="40" text-anchor="middle">0.3</text>
<text class="s" transform="translate(469.3,1193.4) scale(1,1.06)" font-size="40" text-anchor="middle">0.6</text>
<text class="s" transform="translate(627.7,1193.4) scale(1,1.06)" font-size="40" text-anchor="middle">0.9</text>
<text class="s" transform="translate(786.1,1193.4) scale(1,1.06)" font-size="40" text-anchor="middle">1.2</text>
<text class="s" x="447.5" y="1262.8" font-size="48"><tspan font-style="italic">E</tspan><tspan x="491.5">[</tspan>V<tspan font-size="33" dy="11.5">RHE</tspan><tspan dy="-11.5" dx="-2">]</tspan></text>
<text class="s" transform="translate(45.5,778) rotate(-90)" x="0" y="0" font-size="48.5"><tspan font-style="italic">i</tspan> [mA cm<tspan font-size="33" dy="-21">-2</tspan><tspan dy="21">]</tspan></text>
<text class="s" x="169" y="53" font-size="55" font-weight="bold">a)</text>
<text class="s" x="169" y="535" font-size="55" font-weight="bold">b)</text>
<text class="s" x="169" y="882" font-size="55" font-weight="bold">c)</text>
<text class="ss" x="724.5" y="470.5" font-size="47.5" fill="#a6ae1c">leached</text>
<text class="ss" x="724.5" y="531.5" font-size="46.5" fill="#a6ae1c">Pt<tspan font-size="34" dy="11">x</tspan><tspan dy="-11">Y/C</tspan></text>
<text class="ss" x="718.5" y="923.8" font-size="47.5" fill="#898989">Pt/C-HT</text>
</svg>
</body></html>
